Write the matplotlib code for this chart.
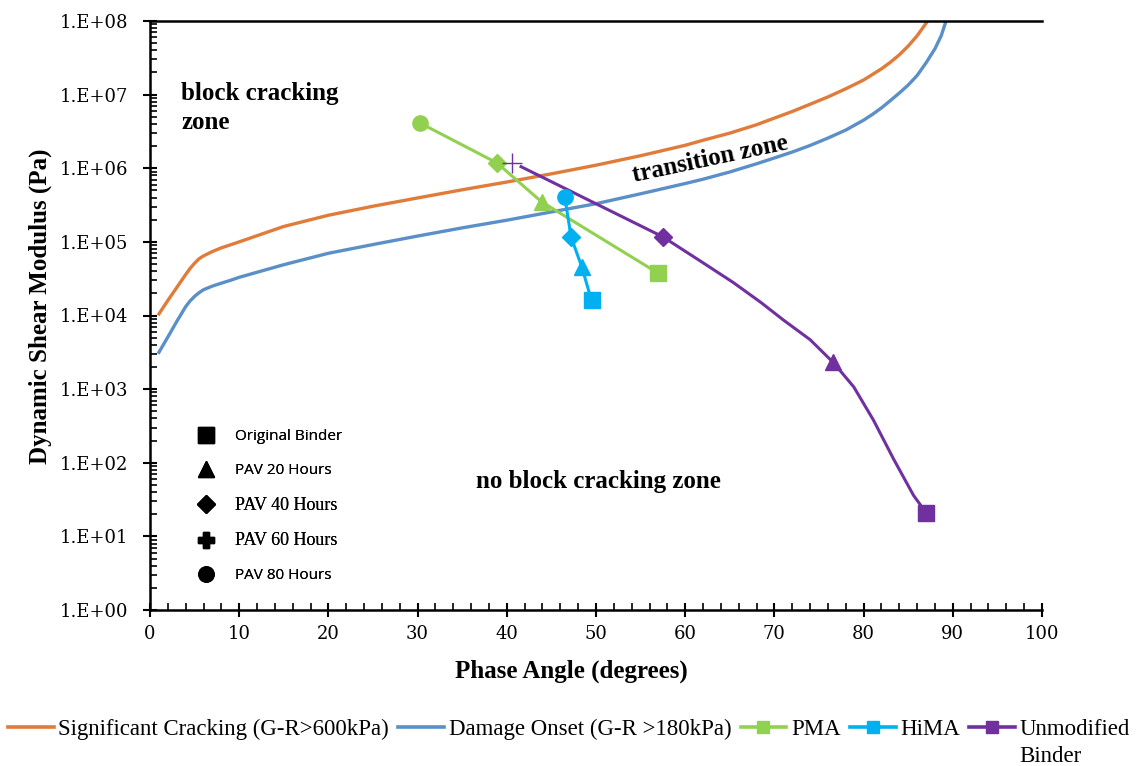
import matplotlib
matplotlib.use("Agg")
import matplotlib.pyplot as plt
from matplotlib.lines import Line2D
from matplotlib.ticker import MultipleLocator, LogLocator

# Glover-Rowe threshold curves (phase angle in degrees, G* in Pa)
gr_angle_sig = [1, 2, 3, 4, 4.5, 5, 5.5, 6, 7, 8, 9, 10, 15, 20, 25, 30, 35, 40, 45,
                50, 55, 60, 62, 65, 68, 70, 72, 74, 76, 78, 80, 82, 83, 84, 85, 86, 87, 87.5]
gr_sig = [1.05e4, 1.6e4, 2.4e4, 3.6e4, 4.37e4, 5.13e4, 5.9e4, 6.45e4, 7.4e4, 8.3e4,
          9.1e4, 1.0e5, 1.62e5, 2.3e5, 3.05e5, 3.95e5, 5.1e5, 6.5e5, 8.4e5,
          1.1e6, 1.48e6, 2.05e6, 2.4e6, 3.0e6, 3.9e6, 4.8e6, 5.9e6, 7.4e6, 9.3e6,
          1.2e7, 1.58e7, 2.24e7, 2.75e7, 3.47e7, 4.57e7, 6.3e7, 9.3e7, 1.15e8]

gr_angle_dmg = [1, 2, 3, 4, 4.5, 5, 5.5, 6, 7, 8, 9, 10, 15, 20, 25, 30, 35, 40, 45,
                50, 55, 60, 62, 65, 68, 70, 72, 74, 76, 78, 80, 81, 82, 83, 84, 85, 86,
                87, 88, 88.7, 89.3]
gr_dmg = [3.16e3, 5.1e3, 8.3e3, 1.32e4, 1.58e4, 1.82e4, 2.04e4, 2.24e4, 2.51e4, 2.75e4,
          3.0e4, 3.3e4, 4.9e4, 7.0e4, 9.2e4, 1.2e5, 1.55e5, 1.97e5, 2.55e5,
          3.3e5, 4.5e5, 6.2e5, 7.1e5, 8.9e5, 1.15e6, 1.38e6, 1.66e6, 2.04e6, 2.57e6,
          3.3e6, 4.5e6, 5.4e6, 6.6e6, 8.3e6, 1.05e7, 1.35e7, 1.82e7, 2.7e7, 4.2e7,
          6.3e7, 1.05e8]

# binders: PAV 80 h, 40 h, 20 h, original
pma_angle = [30.3, 38.9, 43.9, 56.9]
pma_g = [4.1e6, 1.18e6, 3.5e5, 3.8e4]
pma_markers = ['o', 'D', '^', 's']

hima_angle = [46.5, 47.2, 48.4, 49.5]
hima_g = [4.1e5, 1.17e5, 4.6e4, 1.6e4]
hima_markers = ['o', 'D', '^', 's']

# unmodified: PAV 60 h, 40 h, 20 h, original
unmod_angle = [40.6, 57.5, 76.6, 87.0]
unmod_g = [1.18e6, 1.17e5, 2.3e3, 21]
unmod_markers = ['+', 'D', '^', 's']
# smoothed line path of the unmodified binder as drawn
unmod_line_angle = [41.6, 57.5, 62.0, 65.4, 68.5, 71.0, 74.0, 76.6, 78.9, 81.1, 83.4, 85.6, 87.0]
unmod_line_g = [1.05e6, 1.17e5, 5.2e4, 2.8e4, 1.5e4, 8.7e3, 4.7e3, 2.3e3, 1070, 380, 110, 36, 21]

aging_labels = ['Original Binder', 'PAV 20 Hours', 'PAV 40 Hours', 'PAV 60 Hours', 'PAV 80 Hours']
aging_markers = ['s', '^', 'D', 'P', 'o']

c_sig = '#E07B39'
c_dmg = '#5B8FC7'
c_pma = '#92D050'
c_hima = '#00B0F0'
c_unmod = '#7030A0'

serif = 'Liberation Serif'
tickfont = 'DejaVu Serif'

fig = plt.figure(figsize=(11.4, 7.66), dpi=100)
ax = fig.add_axes([150/1140, 1 - 610/766, (1042-150)/1140, (610-21)/766])


def plot_markers(x, y, markers, color, msize):
    for xi, yi, m in zip(x, y, markers):
        if m == '+':
            ax.plot(xi, yi, m, color=color, ms=15, mew=1.0, zorder=4)
        else:
            s = msize * (0.85 if m == 'D' else 1.0)
            ax.plot(xi, yi, m, color=color, ms=s, mec=color, zorder=4)


ax.plot(gr_angle_sig, gr_sig, color=c_sig, lw=2.4, zorder=2)
ax.plot(gr_angle_dmg, gr_dmg, color=c_dmg, lw=2.4, zorder=2)
ax.plot(pma_angle, pma_g, '-', color=c_pma, lw=2.2, zorder=3)
plot_markers(pma_angle, pma_g, pma_markers, c_pma, 11)
ax.plot(hima_angle, hima_g, '-', color=c_hima, lw=2.2, zorder=3)
plot_markers(hima_angle, hima_g, hima_markers, c_hima, 11)
ax.plot(unmod_line_angle, unmod_line_g, '-', color=c_unmod, lw=2.2, zorder=3)
plot_markers(unmod_angle, unmod_g, unmod_markers, c_unmod, 11)

ax.set_yscale('log')
ax.set_xlim(0, 100)
ax.set_ylim(1, 1e8)

ax.xaxis.set_major_locator(MultipleLocator(10))
ax.xaxis.set_minor_locator(MultipleLocator(2))
ax.yaxis.set_minor_locator(LogLocator(base=10, subs=range(2, 10), numticks=12))
ax.set_yticks([10.0 ** k for k in range(0, 9)])
ax.set_yticklabels(['1.E+%02d' % k for k in range(0, 9)])

ax.tick_params(axis='both', which='major', direction='inout', length=10, width=1.5,
               labelsize=13, pad=6)
ax.tick_params(axis='y', which='major', pad=11)
ax.tick_params(axis='both', which='minor', direction='in', length=5, width=1.2)
ax.tick_params(axis='y', which='minor', labelleft=False)
for lab in ax.get_xticklabels() + ax.get_yticklabels():
    lab.set_fontfamily(tickfont)

for sp in ['left', 'bottom', 'top']:
    ax.spines[sp].set_linewidth(1.8)
ax.spines['right'].set_visible(False)

ax.set_xlabel('Phase Angle (degrees)', fontsize=18, fontweight='bold', family=serif)
ax.set_ylabel('Dynamic Shear Modulus (Pa)', fontsize=18, fontweight='bold', family=serif)
ax.xaxis.set_label_coords(0.472, -0.085)
ax.yaxis.set_label_coords(-0.11, 0.516)

# zone labels
ax.text(3.5, 6.6e6, 'block cracking\nzone', fontsize=18, fontweight='bold', family=serif,
        ha='left', va='center', linespacing=1.3)
ax.text(62.8, 1.35e6, 'transition zone', fontsize=18, fontweight='bold', family=serif,
        ha='center', va='center', rotation=12)
ax.text(50.3, 56, 'no block cracking zone', fontsize=18, fontweight='bold', family=serif,
        ha='center', va='center')

# aging-level key
handles = [Line2D([], [], ls='none', marker=m, color='black',
                  ms=(11 if m != 'D' else 9)) for m in aging_markers]
key = ax.legend(handles, aging_labels, loc='upper left', bbox_to_anchor=(0.03, 0.33),
                frameon=False, handletextpad=0.9, labelspacing=1.22, fontsize=11)
key_fonts = ['Open Sans', 'Open Sans', serif, serif, 'Open Sans']
for t, f in zip(key.get_texts(), key_fonts):
    t.set_fontfamily(f)
    if f == serif:
        t.set_fontsize(13)
ax.add_artist(key)

# series legend below the chart
series_handles = [
    Line2D([], [], color=c_sig, lw=2.6),
    Line2D([], [], color=c_dmg, lw=2.6),
    Line2D([], [], color=c_pma, lw=2.6, marker='s', ms=8),
    Line2D([], [], color=c_hima, lw=2.6, marker='s', ms=8),
    Line2D([], [], color=c_unmod, lw=2.6, marker='s', ms=8),
]
series_labels = ['Significant Cracking (G-R>600kPa)', 'Damage Onset (G-R >180kPa)',
                 'PMA', 'HiMA', 'Unmodified']
leg = fig.legend(series_handles, series_labels, loc='center left',
                 bbox_to_anchor=(8/1140, 1 - 729/766), ncol=5, frameon=False,
                 prop={'family': serif, 'size': 16.5}, borderpad=0, borderaxespad=0,
                 handlelength=2.0, handletextpad=0.2, columnspacing=0.4)

fig.canvas.draw()
bb = leg.get_texts()[-1].get_window_extent()
fig.text(bb.x0 / fig.bbox.width, 1 - 757/766, 'Binder', family=serif, fontsize=16.5,
         ha='left', va='center')

fig.savefig('out.png', dpi=100)
